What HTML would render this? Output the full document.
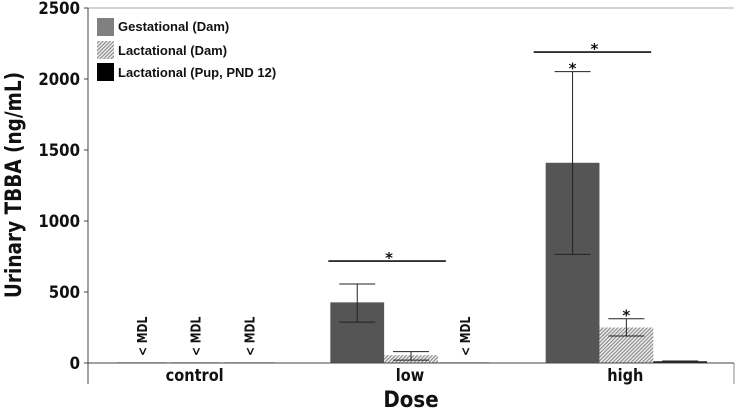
<!DOCTYPE html>
<html lang="en">
<head>
<meta charset="utf-8">
<title>Urinary TBBA by dose</title>
<style>
html,body{margin:0;padding:0;background:#fff;width:742px;height:413px;overflow:hidden}
svg{display:block}
text{font-family:"DejaVu Sans","Liberation Sans",sans-serif;font-weight:bold;fill:#111}
.leg{font-family:"Liberation Sans",sans-serif;font-size:13px}
</style>
</head>
<body>
<svg id="chart" width="742" height="413" viewBox="0 0 742 413">
<defs>
<pattern id="hatch" width="2.6" height="2.6" patternUnits="userSpaceOnUse" patternTransform="rotate(-45)">
<rect width="2.6" height="2.6" fill="#ececec"/>
<rect width="2.6" height="1" fill="#808080"/>
</pattern>
</defs>
</svg>
<script>
const categories = ['control', 'low', 'high'];
const seriesNames = ['Gestational (Dam)', 'Lactational (Dam)', 'Lactational (Pup, PND 12)'];
const gestational = [0, 427, 1410];
const lactationalDam = [0, 55, 250];
const lactationalPup = [0, 0, 12];
const gestationalErrHigh = [null, 556, 2052];
const gestationalErrLow = [null, 288, 765];
const lactationalDamErrHigh = [null, 80, 312];
const lactationalDamErrLow = [null, 20, 190];
const lactationalPupErrHigh = [null, null, 14];
const lactationalPupErrLow = [null, null, 10];
const yTicks = [0, 500, 1000, 1500, 2000, 2500];
const belowLimit = [[true, true, true], [false, false, true], [false, false, false]];
const pointStars = [[false, false, false], [false, false, false], [true, true, false]];
const groupStarValues = [null, 718, 2190];

const svg = document.getElementById('chart');
const NS = 'http://www.w3.org/2000/svg';
const left = 88, right = 734, y0 = 363, yTop = 8, axisBottom = 384;
const yMax = yTicks[yTicks.length - 1];
const groupW = (right - left) / categories.length;
const barW = 53.8;
const groupPad = 27;
const fills = ['#555555', 'url(#hatch)', '#111111'];
const values = [gestational, lactationalDam, lactationalPup];
const errHigh = [gestationalErrHigh, lactationalDamErrHigh, lactationalPupErrHigh];
const errLow = [gestationalErrLow, lactationalDamErrLow, lactationalPupErrLow];
const bracketShift = [0, -2, -12];
const bracketLen = 117.5;

function yScale(v) { return y0 - (v / yMax) * (y0 - yTop); }
function barX(g, s) { return left + g * groupW + groupPad + s * barW; }

function line(x1, y1, x2, y2, color, width, name) {
  const el = document.createElementNS(NS, 'line');
  el.setAttribute('x1', x1);
  el.setAttribute('y1', y1);
  el.setAttribute('x2', x2);
  el.setAttribute('y2', y2);
  el.setAttribute('stroke', color);
  el.setAttribute('stroke-width', width);
  
  
  svg.appendChild(el);
  return el;
}
function label(str, x, y, size, anchor, name, rotate, squeeze) {
  const el = document.createElementNS(NS, 'text');
  el.textContent = str;
  el.setAttribute('x', x);
  el.setAttribute('y', y);
  el.setAttribute('font-size', size);
  el.setAttribute('text-anchor', anchor);
  if (rotate) el.setAttribute('transform', 'rotate(-90 ' + x + ' ' + y + ')');
  
  
  svg.appendChild(el);
  if (squeeze) {
    el.setAttribute('textLength', (el.getComputedTextLength() * squeeze).toFixed(1));
    el.setAttribute('lengthAdjust', 'spacingAndGlyphs');
  }
  return el;
}

/* bars */
values.forEach(function (series, s) {
  series.forEach(function (v, g) {
    if (belowLimit[g][s]) {
      line(barX(g, s) + 2, y0 - 0.5, barX(g, s) + barW - 2, y0 - 0.5, '#cccccc', 1, 'baseline-mark');
      label('< MDL', barX(g, s) + barW / 2 + 5, y0 - 7, 13.5, 'start', 'below-detection-label', true, 0.8);
      return;
    }
    const r = document.createElementNS(NS, 'rect');
    r.setAttribute('x', barX(g, s));
    r.setAttribute('y', yScale(v));
    r.setAttribute('width', barW);
    r.setAttribute('height', y0 - yScale(v));
    r.setAttribute('fill', fills[s]);
    
    
    svg.appendChild(r);
  });
});

/* axes */
line(left, yTop, right, yTop, '#aaaaaa', 1, 'plot-top-border');
line(left, yTop, left, axisBottom, '#444444', 1, 'y-axis');
line(right, y0, right, axisBottom, '#888888', 1, 'right-tick');
line(left, y0, right, y0, '#444444', 1, 'x-axis');

yTicks.forEach(function (t) {
  line(left - 4, yScale(t), left, yScale(t), '#444444', 1, 'y-tick');
  label(String(t), 80, yScale(t) + 6, 17, 'end', 'y-tick-label', false, 0.88);
});
categories.forEach(function (c, g) {
  label(c, left + g * groupW + groupW / 2 - 1, 381, 16.5, 'middle', 'x-tick-label', false, 0.88);
});

/* error bars */
errHigh.forEach(function (series, s) {
  series.forEach(function (hi, g) {
    const lo = errLow[s][g];
    if (hi === null || lo === null) return;
    const cx = barX(g, s) + barW / 2;
    line(cx, yScale(hi), cx, yScale(lo), '#222222', 1, 'error-bar-stem');
    line(cx - 18, yScale(hi), cx + 18, yScale(hi), '#222222', 1, 'error-bar-cap-high');
    line(cx - 18, yScale(lo), cx + 18, yScale(lo), '#222222', 1, 'error-bar-cap-low');
    if (pointStars[g][s]) label('*', cx, yScale(hi) + 2, 15, 'middle', 'significance-star');
  });
});

/* group significance brackets */
groupStarValues.forEach(function (val, g) {
  if (val === null) return;
  const y = yScale(val);
  const x1 = barX(g, 0) + bracketShift[g];
  line(x1, y, x1 + bracketLen, y, '#111111', 1.6, 'group-significance-line');
  label('*', x1 + bracketLen / 2 + 2, y + 2, 15, 'middle', 'group-significance-star');
});

/* axis titles */
label('Urinary TBBA (ng/mL)', 21, 185, 22, 'middle', 'y-axis-title', true, 0.84);
label('Dose', 411, 407, 22, 'middle', 'x-axis-title', false, 0.9);

/* legend */
const legendY = [18, 41, 63];
const legendFills = ['#808080', 'url(#hatch)', '#000000'];
const legendText = [31, 55, 77];
seriesNames.forEach(function (n, i) {
  const r = document.createElementNS(NS, 'rect');
  r.setAttribute('x', 97);
  r.setAttribute('y', legendY[i]);
  r.setAttribute('width', 17);
  r.setAttribute('height', 18);
  r.setAttribute('fill', legendFills[i]);
  
  
  svg.appendChild(r);
  const t = label(n, 118, legendText[i], 13, 'start', 'legend-entry');
  t.setAttribute('class', 'leg');
});
</script>
</body>
</html>
